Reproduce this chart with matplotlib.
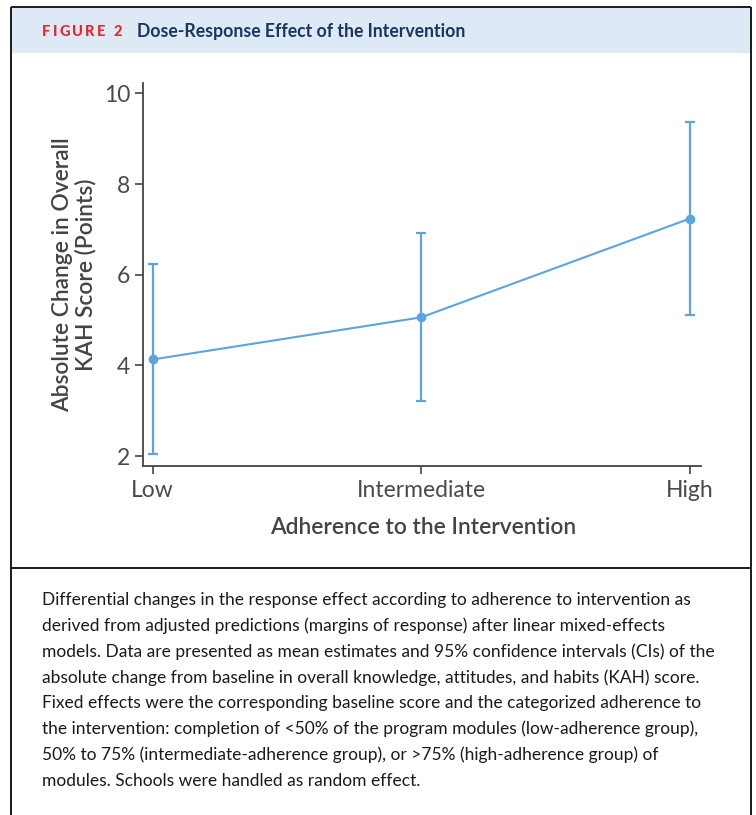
import matplotlib
matplotlib.use("Agg")
import matplotlib.pyplot as plt
from matplotlib.lines import Line2D
from matplotlib.patches import Rectangle

plt.rcParams['font.family'] = ['Lato', 'DejaVu Sans']

# ---- data ----
categories = ["Low", "Intermediate", "High"]
means = [4.13, 5.06, 7.24]
ci_lower = [2.04, 3.21, 5.11]
ci_upper = [6.24, 6.91, 9.37]
y_ticks = [2, 4, 6, 8, 10]

header_label = "FIGURE 2"
header_title = "Dose-Response Effect of the Intervention"
x_label = "Adherence to the Intervention"
y_label = "Absolute Change in Overall\nKAH Score (Points)"
caption_lines = [
    "Differential changes in the response effect according to adherence to intervention as",
    "derived from adjusted predictions (margins of response) after linear mixed-effects",
    "models. Data are presented as mean estimates and 95% confidence intervals (CIs) of the",
    "absolute change from baseline in overall knowledge, attitudes, and habits (KAH) score.",
    "Fixed effects were the corresponding baseline score and the categorized adherence to",
    "the intervention: completion of <50% of the program modules (low-adherence group),",
    "50% to 75% (intermediate-adherence group), or >75% (high-adherence group) of",
    "modules. Schools were handled as random effect.",
]

W, H = 756, 815
fig = plt.figure(figsize=(W / 100, H / 100), dpi=100)

def fx(px):
    return px / W

def fy(py):
    return 1 - py / H

# header band
fig.patches.append(Rectangle((fx(10.5), fy(53)), fx(750.5) - fx(10.5), fy(7) - fy(53),
                             transform=fig.transFigure, facecolor="#dde9f5",
                             edgecolor="none", zorder=0))
# frame lines
frame_col = "#1a1a1a"
for (x0, y0, x1, y1) in [(10.5, 6.5, 750.5, 6.5), (10.5, 6.5, 10.5, 815),
                         (750.5, 6.5, 750.5, 815), (10.5, 568.3, 750.5, 568.3)]:
    fig.add_artist(Line2D([fx(x0), fx(x1)], [fy(y0), fy(y1)], transform=fig.transFigure,
                          color=frame_col, lw=1.4, solid_capstyle="butt"))

# letter-spaced "FIGURE 2"
renderer = fig.canvas.get_renderer()
xcur = 42.0
for ch in header_label:
    t = fig.text(fx(xcur), fy(32), ch, color="#e3262f", fontsize=10.5,
                 fontweight="black", ha="left", va="center")
    if ch == " ":
        adv = 4.0
    else:
        adv = t.get_window_extent(renderer).width
    xcur += adv + 2.2

fig.text(fx(137), fy(32), header_title, color="#1b3461", fontsize=12.7,
         fontweight="bold", ha="left", va="center")

# axes
ax = fig.add_axes([fx(142.7), fy(466), fx(701) - fx(142.7), fy(83) - fy(466)])
xpos = list(range(len(categories)))
yerr = [[m - l for m, l in zip(means, ci_lower)], [u - m for m, u in zip(means, ci_upper)]]
blue = "#5aa5dc"
ax.errorbar(xpos, means, yerr=yerr, color=blue, lw=1.5, elinewidth=1.6,
            capsize=3.5, capthick=1.6, marker="o", markersize=6, zorder=3)
ax.set_xlim(-0.0365, 2.041)
ax.set_ylim(1.78, 10.23)
ax.set_yticks(y_ticks)
ax.set_yticklabels([str(t) for t in y_ticks])
ax.set_xticks(xpos)
ax.set_xticklabels(categories)
for s in ["top", "right"]:
    ax.spines[s].set_visible(False)
for s in ["left", "bottom"]:
    ax.spines[s].set_color("#444444")
    ax.spines[s].set_linewidth(1.3)
ax.tick_params(axis="both", colors="#444444", length=6, width=1.2,
               labelsize=16.5, labelcolor="#4a4a4a")
ax.tick_params(axis="y", pad=3)
ax.tick_params(axis="x", pad=4)

fig.text(fx(423), fy(528), x_label, fontsize=16.4, color="#444444",
         ha="center", va="center", fontweight="semibold")
fig.text(fx(74), fy(275), y_label, fontsize=16.4, color="#444444",
         ha="center", va="center", rotation=90, multialignment="center",
         fontweight="semibold", linespacing=1.1)

for i, line in enumerate(caption_lines):
    fig.text(fx(42), fy(600 + 25.8 * i), line, fontsize=12.5, color="#1a1a1a",
             ha="left", va="center")

fig.savefig("out.png", dpi=100)
